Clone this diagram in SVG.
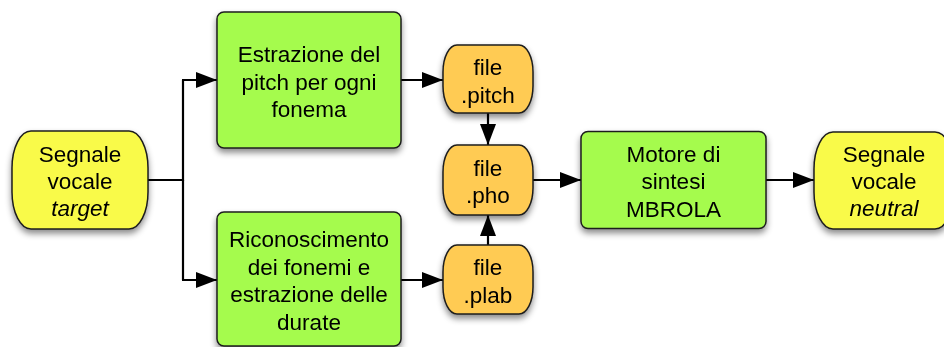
<svg xmlns="http://www.w3.org/2000/svg" width="944" height="347" viewBox="0 0 944 347">
  <defs>
    <filter id="shadow" x="-20%" y="-20%" width="140%" height="150%">
      <feDropShadow dx="0" dy="4" stdDeviation="3" flood-color="#000" flood-opacity="0.45"/>
    </filter>
    <marker id="arrow" viewBox="0 0 21 16" refX="21" refY="8" markerWidth="21" markerHeight="16" markerUnits="userSpaceOnUse" orient="auto">
      <path d="M0,0 L21,8 L0,16 Z" fill="#000"/>
    </marker>
  </defs>
  <style>
    .proc { fill: #a5fb4e; stroke: #1e1e1e; stroke-width: 1.5; }
    .term { fill: #f9fa4a; stroke: #1e1e1e; stroke-width: 1.5; }
    .file { fill: #ffcb52; stroke: #1e1e1e; stroke-width: 1.5; }
    .node { filter: url(#shadow); }
    text { font-family: "Liberation Sans", Arial, Helvetica, sans-serif; font-size: 22.5px; fill: #000; text-anchor: middle; }
    .it { font-style: italic; }
    .link { fill: none; stroke: #000; stroke-width: 2.2; }
    .arr { marker-end: url(#arrow); }
  </style>

  <!-- connectors -->
  <g id="connectors">
    <path class="link" d="M148,180 H183 V80"/>
    <path class="link" d="M183,180 V280"/>
    <path class="link arr" d="M182,80 H217"/>
    <path class="link arr" d="M182,280 H217"/>
    <path class="link arr" d="M401,80 H443"/>
    <path class="link arr" d="M401,280 H443"/>
    <path class="link arr" d="M488,113 V145"/>
    <path class="link arr" d="M488,245 V215"/>
    <path class="link arr" d="M533,180 H581"/>
    <path class="link arr" d="M766,180 H814"/>
  </g>

  <!-- input signal -->
  <g id="segnale-target" class="node">
    <path class="term" d="M31,131 H129 A19,37 0 0 1 148,168 V192 A19,37 0 0 1 129,229 H31 A19,37 0 0 1 12,192 V168 A19,37 0 0 1 31,131 Z"/>
    <text x="80" y="161.5">Segnale</text>
    <text x="80" y="189">vocale</text>
    <text class="it" x="80" y="216">target</text>
  </g>

  <!-- pitch extraction -->
  <g id="estrazione-pitch" class="node">
    <rect class="proc" x="217" y="12" width="184" height="136" rx="7"/>
    <text x="309" y="62">Estrazione del</text>
    <text x="309" y="89.5">pitch per ogni</text>
    <text x="309" y="117">fonema</text>
  </g>

  <!-- phoneme recognition -->
  <g id="riconoscimento-fonemi" class="node">
    <rect class="proc" x="217" y="212" width="184" height="134" rx="7"/>
    <text x="309" y="247">Riconoscimento</text>
    <text x="309" y="275">dei fonemi e</text>
    <text x="309" y="302">estrazione delle</text>
    <text x="309" y="330">durate</text>
  </g>

  <!-- intermediate files -->
  <g id="file-pitch" class="node">
    <path class="file" d="M457,45 H519 A14,27 0 0 1 533,72 V86 A14,27 0 0 1 519,113 H457 A14,27 0 0 1 443,86 V72 A14,27 0 0 1 457,45 Z"/>
    <text x="488" y="75">file</text>
    <text x="488" y="102.5">.pitch</text>
  </g>

  <g id="file-pho" class="node">
    <path class="file" d="M457,145 H519 A14,27 0 0 1 533,172 V188 A14,27 0 0 1 519,215 H457 A14,27 0 0 1 443,188 V172 A14,27 0 0 1 457,145 Z"/>
    <text x="488" y="175.5">file</text>
    <text x="488" y="202.5">.pho</text>
  </g>

  <g id="file-plab" class="node">
    <path class="file" d="M457,245 H519 A14,27 0 0 1 533,272 V287 A14,27 0 0 1 519,314 H457 A14,27 0 0 1 443,287 V272 A14,27 0 0 1 457,245 Z"/>
    <text x="488" y="275">file</text>
    <text x="488" y="303">.plab</text>
  </g>

  <!-- synthesis engine -->
  <g id="motore-mbrola" class="node">
    <rect class="proc" x="581" y="131.5" width="185" height="97" rx="7"/>
    <text x="673.5" y="161.5">Motore di</text>
    <text x="673.5" y="189">sintesi</text>
    <text x="673.5" y="216.5">MBROLA</text>
  </g>

  <!-- output signal -->
  <g id="segnale-neutral" class="node">
    <path class="term" d="M833,132 H935 A19,37 0 0 1 954,169 V192 A19,37 0 0 1 935,229 H833 A19,37 0 0 1 814,192 V169 A19,37 0 0 1 833,132 Z"/>
    <text x="884" y="161.5">Segnale</text>
    <text x="884" y="188.5">vocale</text>
    <text class="it" x="884" y="215.5">neutral</text>
  </g>
</svg>
